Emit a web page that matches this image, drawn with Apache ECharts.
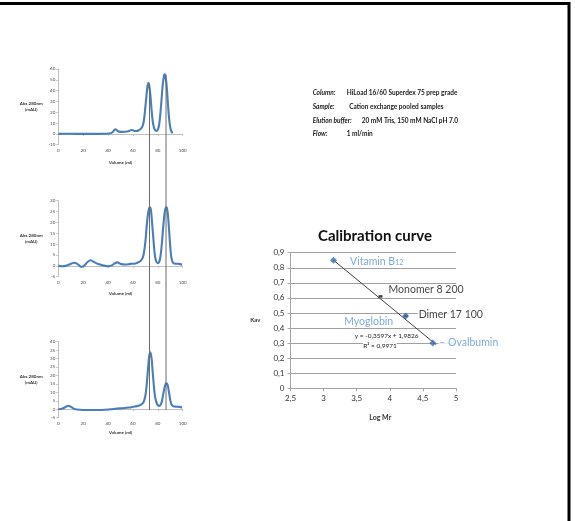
<!DOCTYPE html>
<html><head><meta charset="utf-8">
<script src="https://cdn.jsdelivr.net/npm/echarts@6/dist/echarts.min.js"></script>
<style>html,body{margin:0;padding:0;background:#fff}#c{width:575px;height:521px}</style>
</head><body><div id="c"></div>
<script>
// ---------- DATA ----------
const volumeTicks = [0, 20, 40, 60, 80, 100];
const run1 = [[0,0],[10,0.1],[20,0],[30,0],[38,0.1],[42,0.5],[44,2],[45,3.6],[46,4.2],[47,3.6],[48,2.4],[50,1.9],[54,2],[57,2.7],[58.5,3.6],[60,3.4],[61.5,2.6],[63,2.6],[65,3.6],[66.5,4.8],[68,8],[69,14],[70,25],[71,37],[71.8,45],[72.4,47],[73,45.5],[74,36],[75,22],[76,11],[77,5.5],[78,3.3],[79,2.8],[80,4],[81,8],[82,18],[83,32],[84,46],[85,54],[85.5,55],[86,54],[87,46],[88,30],[89,15],[90,6],[91,2],[92,0.8]];
const run2 = [[0,0],[3,-0.2],[7,0.2],[10,0.9],[13,1.4],[15.5,0.8],[18.5,-0.5],[21,0.2],[23.5,1.8],[26,2.6],[28.5,1.8],[32,0.8],[36,0.2],[40,-0.2],[43,0.2],[45.5,1.2],[47.5,1.6],[50,0.9],[54,0.6],[58,0.9],[62,1.1],[65,1.8],[67,2.8],[68.5,5],[70,11],[71,18],[72,23.5],[73,26.5],[73.7,27],[74.5,25.5],[75.5,19],[76.5,12],[77.5,5.5],[78.5,2.4],[80,1.2],[81.5,2.5],[82.5,6],[83.5,12],[84.5,19],[85.5,24.5],[86.5,27],[87.2,26.8],[88,24],[89,17],[90,9],[91,3.5],[92.5,1.2],[95,1],[97,0.9],[99.5,0.5]];
const run3 = [[0,0],[3,0.3],[5.5,1.2],[8,2.1],[10.5,1.3],[13,0.2],[17,-0.3],[25,-0.4],[35,-0.4],[42,0],[47,0.4],[52,0.6],[57,1],[61,1.6],[64,2],[66.5,2.8],[68.5,4.2],[70,8],[71,14],[72,23],[73,31],[74,33.7],[75,30],[76,21],[77,12.5],[78,6.5],[79.5,3],[81,2],[82.5,3],[83.5,5.5],[84.5,9.5],[85.5,13],[86.5,15.2],[87.2,15.4],[88,14],[89,10],[90,5.5],[91,2.8],[92.5,1.8],[95,1.5],[97.5,1.4],[99.5,1]];
const refLineVolumes = [73.3, 86.6];
const refLineTops = [0.957, 0.984];

const standardNames = ['Vitamin B12', 'Myoglobin', 'Ovalbumin'];
const standardLogMr = [3.15, 4.24, 4.65];
const standardKav = [0.85, 0.48, 0.30];
const sampleNames = ['Monomer 8 200', 'Dimer 17 100'];
const sampleLogMr = [3.86, 4.24];
const sampleKav = [0.61, 0.48];
const trendLogMr = [3.15, 4.70];
const trendKav = [0.85, 0.29];
const trendEquation = 'y = -0,3597x + 1,9826';
const trendR2 = 'R² = 0,9971';

const infoLabels = ['Column:', 'Sample:', 'Elution buffer:', 'Flow:'];
const infoValues = ['HiLoad 16/60 Superdex 75 prep grade', 'Cation exchange pooled samples', '20 mM Tris, 150 mM NaCl pH 7.0', '1 ml/min'];

// ---------- LAYOUT ----------
const FONT = 'Lato, "Liberation Sans", sans-serif';
const blue = '#4a7ebb';
const lightBlue = '#5f93d3';
const chromGrids = [
  {top: 69, height: 75.7, min: -10, max: 60, interval: 10, gap: 15},
  {top: 200.7, height: 76, min: -5, max: 30, interval: 5, gap: 14},
  {top: 341.7, height: 76, min: -5, max: 40, interval: 5, gap: 12.5}
];
const runs = [run1, run2, run3];
const grids = [], xAxes = [], yAxes = [], series = [];
chromGrids.forEach((g, i) => {
  grids.push({left: 58.3, width: 124.4, top: g.top, height: g.height, outerBoundsMode: 'none'});
  xAxes.push({gridIndex: i, type: 'value', min: volumeTicks[0], max: volumeTicks[volumeTicks.length-1], interval: volumeTicks[1]-volumeTicks[0],
    axisLine: {onZero: true, lineStyle: {color: '#bfbfbf', width: 1}},
    axisTick: {length: 2, lineStyle: {color: '#bfbfbf'}},
    axisLabel: {fontSize: 4.5, color: '#4d4d4d', margin: 3, fontFamily: FONT},
    splitLine: {show: false},
    name: 'Volume (ml)', nameLocation: 'middle', nameGap: g.gap,
    nameTextStyle: {fontSize: 4.5, fontWeight: 'bold', color: '#333', fontFamily: FONT}});
  yAxes.push({gridIndex: i, type: 'value', min: g.min, max: g.max, interval: g.interval,
    axisLine: {show: true, onZero: false, lineStyle: {color: '#bfbfbf', width: 1}},
    axisTick: {show: true, length: 2, lineStyle: {color: '#bfbfbf'}},
    axisLabel: {fontSize: 4.5, color: '#4d4d4d', margin: 3, fontFamily: FONT},
    splitLine: {show: false},
    name: 'Abs 280nm\n(mAU)', nameLocation: 'middle', nameRotate: 0, nameGap: 27,
    nameTextStyle: {fontSize: 4.5, fontWeight: 'bold', color: '#333', align: 'center', lineHeight: 6, fontFamily: FONT}});
  series.push({type: 'line', xAxisIndex: i, yAxisIndex: i, data: runs[i], showSymbol: false, smooth: 0.3,
    lineStyle: {color: blue, width: 2.1}, z: 3});
});

// calibration grid (index 3)
grids.push({left: 290.5, width: 165.5, top: 252.7, height: 135.6, outerBoundsMode: 'none'});
const comma = v => String(+v.toFixed(2)).replace('.', ',');
xAxes.push({gridIndex: 3, type: 'value', min: 2.5, max: 5, interval: 0.5,
  axisLine: {onZero: false, lineStyle: {color: '#a6a6a6'}},
  axisTick: {length: 3, lineStyle: {color: '#a6a6a6'}},
  axisLabel: {fontSize: 8, color: '#333', margin: 6, formatter: comma, fontFamily: FONT},
  splitLine: {show: false},
  name: 'Log Mr', nameLocation: 'middle', nameGap: 26,
  nameTextStyle: {fontSize: 7, fontWeight: 'bold', color: '#333', padding: [0, 0, 0, 14], fontFamily: FONT}});
yAxes.push({gridIndex: 3, type: 'value', min: 0, max: 0.9, interval: 0.1,
  axisLine: {show: true, lineStyle: {color: '#a6a6a6'}},
  axisTick: {show: true, length: 3, lineStyle: {color: '#a6a6a6'}},
  axisLabel: {fontSize: 8, color: '#333', margin: 6, formatter: comma, fontFamily: FONT},
  splitLine: {show: true, lineStyle: {color: '#a0a0a0', width: 1}},
  name: 'Kav', nameLocation: 'middle', nameRotate: 0, nameGap: 30,
  nameTextStyle: {fontSize: 6, fontWeight: 'bold', color: '#333', fontFamily: FONT}});

series.push({type: 'line', xAxisIndex: 3, yAxisIndex: 3, data: trendLogMr.map((x, i) => [x, trendKav[i]]),
  showSymbol: false, lineStyle: {color: '#404040', width: 1}, z: 3, silent: true});

const stdLabels = [
  {position: 'right', distance: 12, formatter: '{a|Vitamin B}{s|12}'},
  {position: 'left', distance: 8, offset: [0, 6], formatter: 'Myoglobin'},
  {position: 'right', distance: 2, formatter: '– Ovalbumin'}
];
series.push({type: 'scatter', xAxisIndex: 3, yAxisIndex: 3, symbol: 'diamond', symbolSize: 7,
  itemStyle: {color: '#3a6fb0'}, z: 5,
  data: standardLogMr.map((x, i) => ({value: [x, standardKav[i]], name: standardNames[i],
    label: Object.assign({show: true, color: lightBlue, fontSize: 10.5, fontFamily: FONT, backgroundColor: '#fff', padding: [0, 1],
      rich: {a: {fontSize: 10.5, color: lightBlue, fontFamily: FONT, verticalAlign: 'bottom', lineHeight: 13},
             s: {fontSize: 7, color: lightBlue, fontFamily: FONT, verticalAlign: 'bottom', lineHeight: 10}}}, stdLabels[i])}))});

const sampleLabels = [
  {position: 'right', distance: 5, offset: [0, -7]},
  {position: 'right', distance: 10, offset: [0, -1]}
];
series.push({type: 'scatter', xAxisIndex: 3, yAxisIndex: 3, symbol: 'rect', symbolSize: [4, 2.5],
  itemStyle: {color: '#111'}, z: 4,
  data: sampleLogMr.map((x, i) => ({value: [x, sampleKav[i]], name: sampleNames[i],
    label: Object.assign({show: true, formatter: '{b}', color: '#111', fontSize: 10.5, fontFamily: FONT, backgroundColor: '#fff', padding: [0, 1]}, sampleLabels[i])}))});

// hidden grid for the vertical reference lines crossing the three runs (index 4)
grids.push({left: 58.3, width: 124.4, top: 69, height: 341, outerBoundsMode: 'none'});
xAxes.push({gridIndex: 4, type: 'value', min: 0, max: 100, show: false});
yAxes.push({gridIndex: 4, type: 'value', min: 0, max: 1, show: false});
refLineVolumes.forEach((v, i) => {
  series.push({type: 'line', xAxisIndex: 4, yAxisIndex: 4, data: [[v, 0], [v, refLineTops[i]]], showSymbol: false,
    lineStyle: {color: '#6b6b6b', width: 1}, z: 4, silent: true});
});

// ---------- GRAPHICS (texts, frame) ----------
const graphic = [];
graphic.push({type: 'polyline', shape: {points: [[0, 3.5], [569, 3.5], [569, 521]]}, style: {stroke: '#000', lineWidth: 3, fill: null}});
const infoY = [93.3, 106.7, 120.7, 134.3];
const infoVX = [346.7, 349.3, 361.7, 346.7];
infoLabels.forEach((t, i) => {
  graphic.push({type: 'text', x: 312.7, y: infoY[i], style: {text: t, font: 'italic bold 6.5px ' + FONT, fill: '#1a1a1a', textVerticalAlign: 'middle'}});
  graphic.push({type: 'text', x: infoVX[i], y: infoY[i], style: {text: infoValues[i], font: 'bold 6.5px ' + FONT, fill: '#1a1a1a', textVerticalAlign: 'middle'}});
});
graphic.push({type: 'text', x: 386.7, y: 335.7, z: 10, style: {text: trendEquation, font: '6.5px ' + FONT, fill: '#1a1a1a', textAlign: 'center', textVerticalAlign: 'middle', backgroundColor: '#fff'}});
graphic.push({type: 'text', x: 380, y: 345.7, z: 10, style: {text: trendR2, font: '6.5px ' + FONT, fill: '#1a1a1a', textAlign: 'center', textVerticalAlign: 'middle', backgroundColor: '#fff'}});

const chart = echarts.init(document.getElementById('c'), null, {renderer: 'canvas'});
chart.setOption({
  animation: false,
  backgroundColor: '#fff',
  title: {text: 'Calibration curve', left: 370, top: 224, textAlign: 'center',
    textStyle: {fontSize: 15, fontWeight: 'bold', color: '#111', fontFamily: FONT}},
  grid: grids, xAxis: xAxes, yAxis: yAxes, series: series, graphic: graphic
});
</script></body></html>
